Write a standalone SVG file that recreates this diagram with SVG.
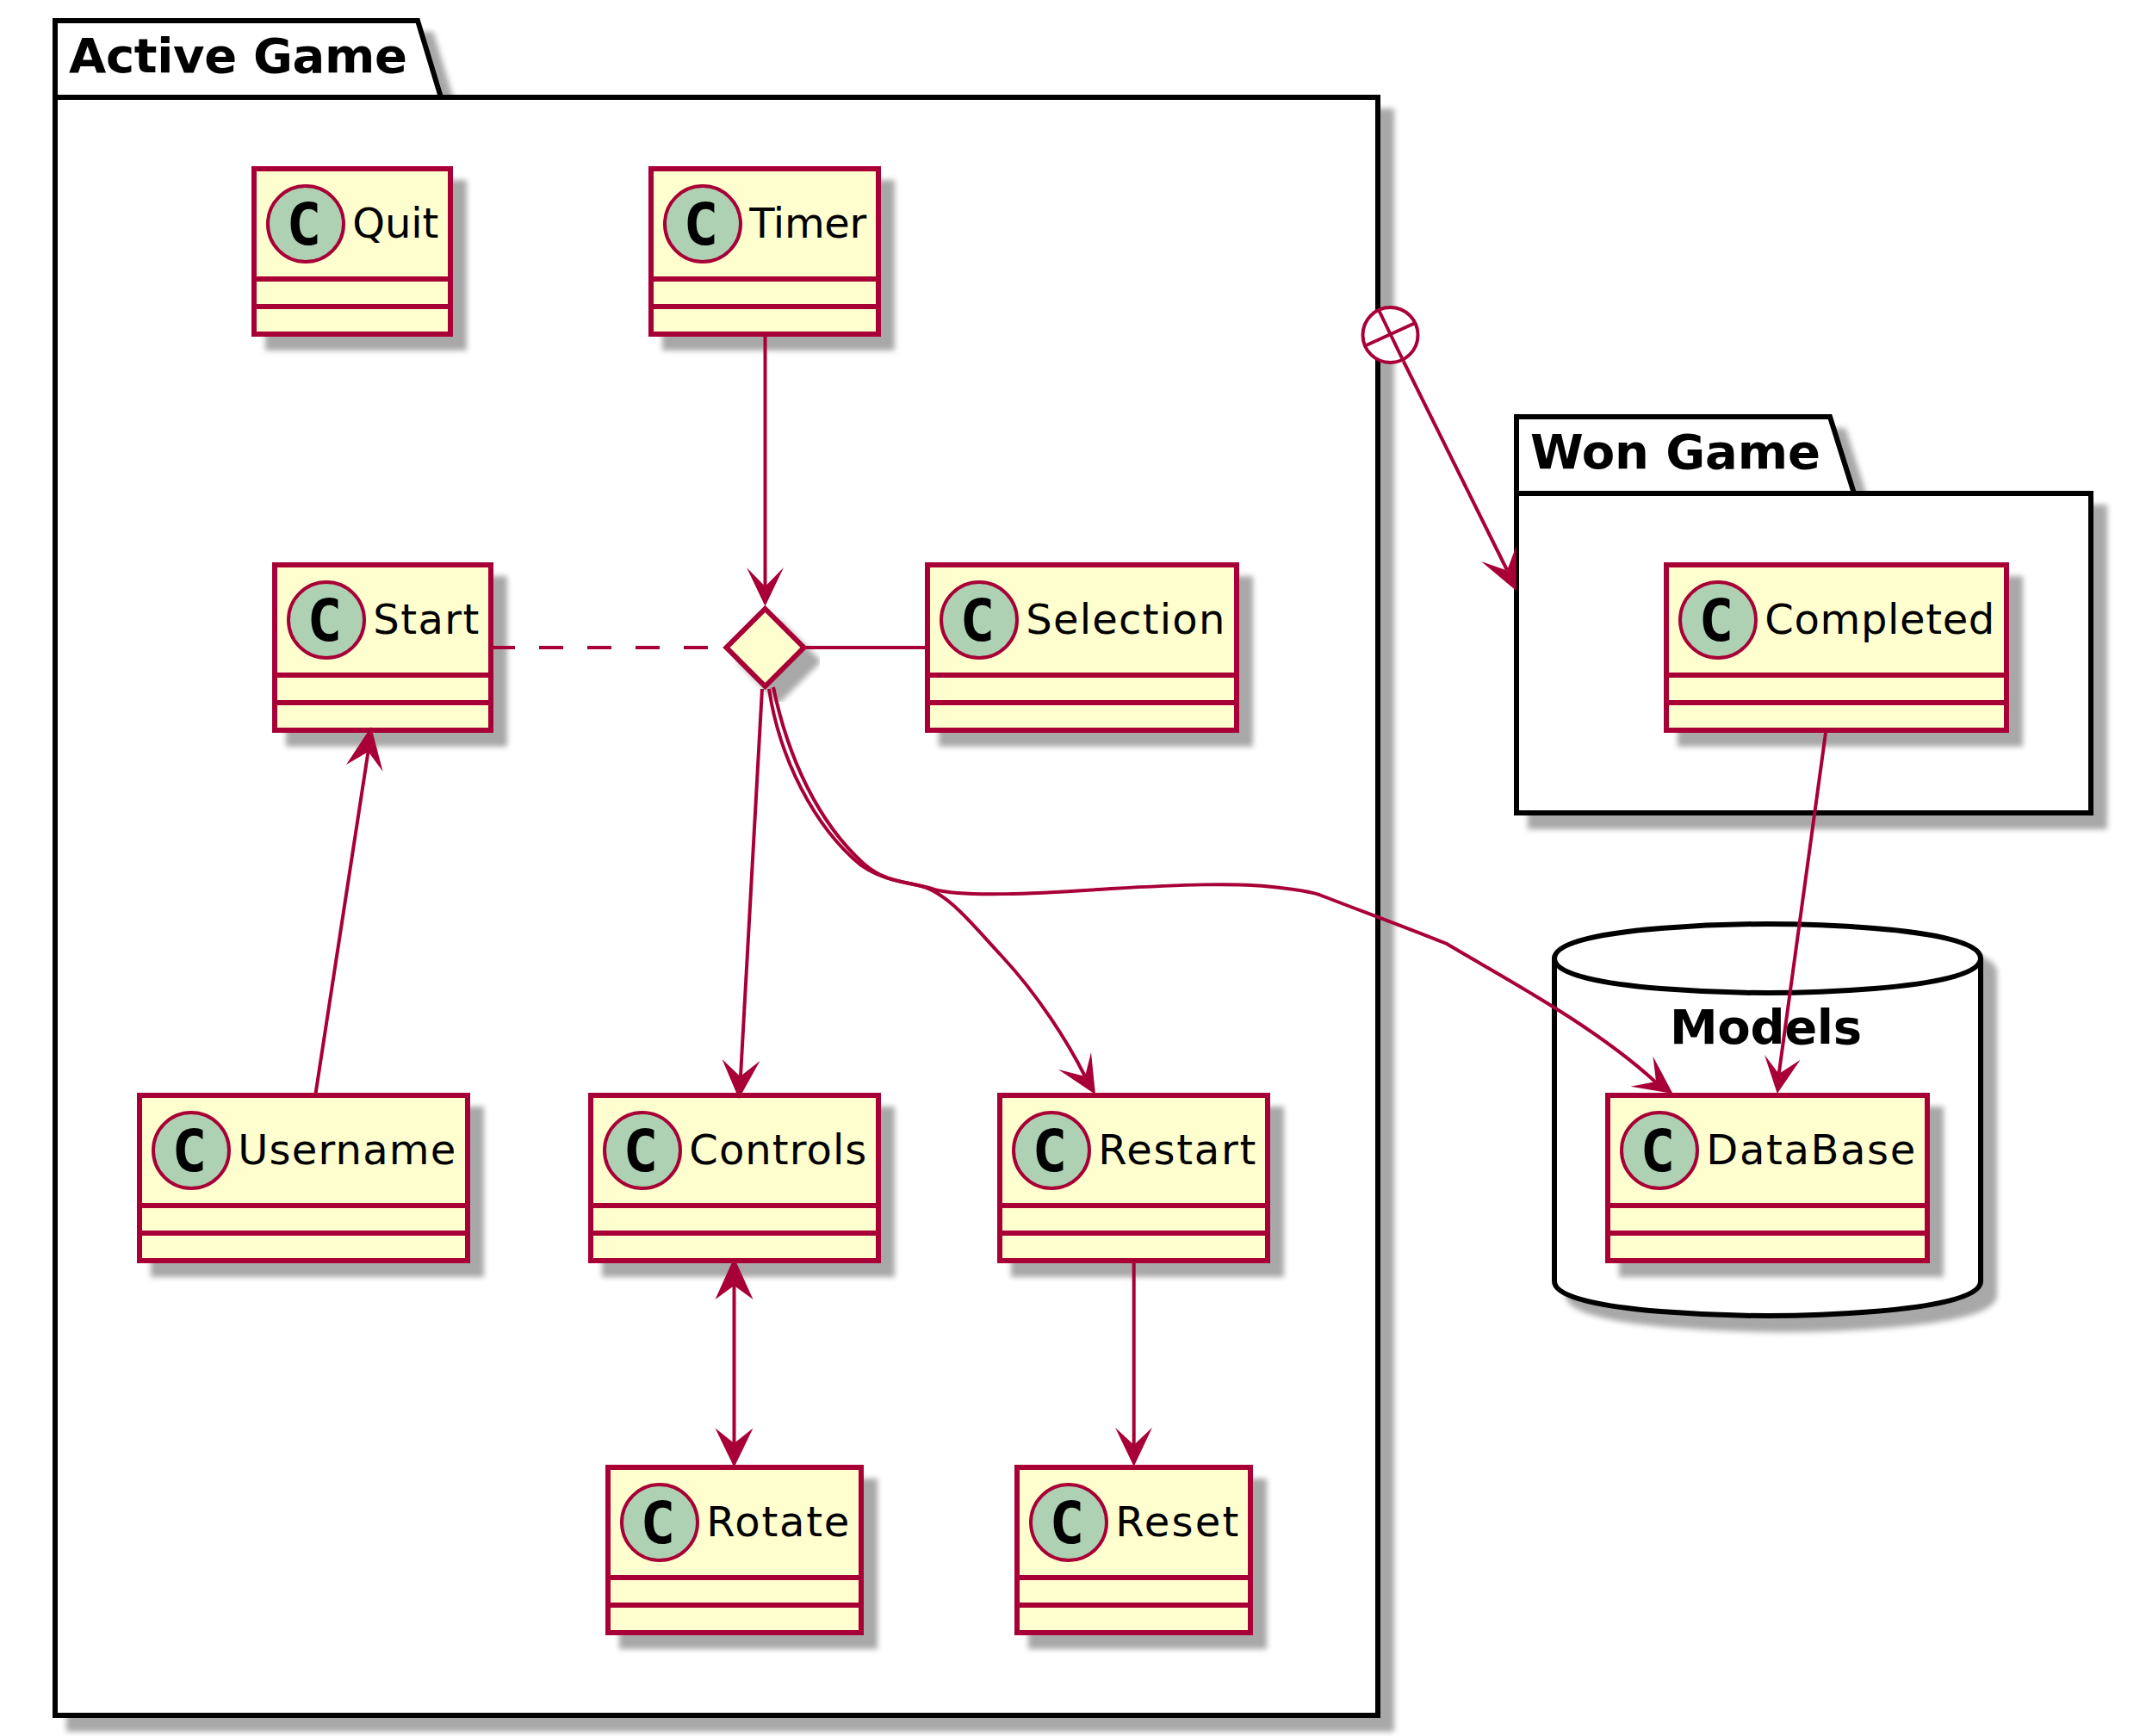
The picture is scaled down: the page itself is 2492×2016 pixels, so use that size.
<svg xmlns="http://www.w3.org/2000/svg" width="2492" height="2016" viewBox="0 0 2492 2016">
<style>
.pk{fill:#fff;stroke:#000;stroke-width:6;stroke-linejoin:miter}
.pl{fill:none;stroke:#000;stroke-width:6}
.pt{font-family:"DejaVu Sans",sans-serif;font-weight:bold;font-size:56px;fill:#000}
.b{fill:#FEFECE;stroke:#A80036;stroke-width:6}
.l{stroke:#A80036;stroke-width:6;fill:none}
.s{fill:#ADD1B2;stroke:#A80036;stroke-width:4}
.c{font-family:"DejaVu Sans Mono",monospace;font-weight:bold;font-size:68px;fill:#000;text-anchor:middle}
.t{font-family:"DejaVu Sans",sans-serif;font-size:48px;fill:#000}
.e{fill:none;stroke:#A80036;stroke-width:4}
.h{fill:#A80036;stroke:none}
.sh{filter:url(#shadow)}
</style>
<defs>
<filter id="shadow" x="-20%" y="-20%" width="140%" height="140%" color-interpolation-filters="sRGB">
<feDropShadow dx="16" dy="16" stdDeviation="3" flood-color="#a8a8a8" flood-opacity="1"/>
</filter>
</defs>
<rect width="2492" height="2016" fill="#fff"/>

<g id="pkg-active">
<path class="pk sh" d="M64,24H485L512,113H1600V1992H64Z"/>
<path class="pl" d="M64,113H512"/>
<text class="pt" x="80" y="84" textLength="393" lengthAdjust="spacing">Active Game</text>
</g>
<g id="pkg-won">
<path class="pk sh" d="M1761,484H2125L2153,573H2428V944H1761Z"/>
<path class="pl" d="M1761,573H2153"/>
<text class="pt" x="1777" y="544" textLength="337" lengthAdjust="spacing">Won Game</text>
</g>
<g id="pkg-models">
<path class="pk sh" d="M1805,1113C1805,1073 2052.5,1073 2052.5,1073C2052.5,1073 2300,1073 2300,1113V1488C2300,1528 2052.5,1528 2052.5,1528C2052.5,1528 1805,1528 1805,1488Z"/>
<path class="pl" d="M1805,1113C1805,1153 2052.5,1153 2052.5,1153C2052.5,1153 2300,1153 2300,1113"/>
<text class="pt" x="1939" y="1212" textLength="223" lengthAdjust="spacing">Models</text>
</g>

<g id="Quit">
<rect class="b sh" x="295" y="196" width="228" height="192"/>
<path class="l" d="M295,324H523M295,356H523"/>
<circle class="s" cx="355" cy="260" r="44"/>
<text class="c" x="353" y="284">C</text>
<text class="t" x="409.300" y="276" textLength="100" lengthAdjust="spacing">Quit</text>
</g>
<g id="Timer">
<rect class="b sh" x="756" y="196" width="264" height="192"/>
<path class="l" d="M756,324H1020M756,356H1020"/>
<circle class="s" cx="816" cy="260" r="44"/>
<text class="c" x="814" y="284">C</text>
<text class="t" x="870.300" y="276" textLength="136" lengthAdjust="spacing">Timer</text>
</g>
<g id="Start">
<rect class="b sh" x="319" y="656" width="251" height="192"/>
<path class="l" d="M319,784H570M319,816H570"/>
<circle class="s" cx="379" cy="720" r="44"/>
<text class="c" x="377" y="744">C</text>
<text class="t" x="433.300" y="736" textLength="123" lengthAdjust="spacing">Start</text>
</g>
<g id="Decision">
<path class="b sh" d="M888.500,707L933.500,752L888.500,797L843.500,752Z"/>
</g>
<g id="Selection">
<rect class="b sh" x="1077" y="656" width="359" height="192"/>
<path class="l" d="M1077,784H1436M1077,816H1436"/>
<circle class="s" cx="1137" cy="720" r="44"/>
<text class="c" x="1135" y="744">C</text>
<text class="t" x="1191.300" y="736" textLength="231" lengthAdjust="spacing">Selection</text>
</g>
<g id="Completed">
<rect class="b sh" x="1935" y="656" width="395" height="192"/>
<path class="l" d="M1935,784H2330M1935,816H2330"/>
<circle class="s" cx="1995" cy="720" r="44"/>
<text class="c" x="1993" y="744">C</text>
<text class="t" x="2049.300" y="736" textLength="267" lengthAdjust="spacing">Completed</text>
</g>
<g id="Username">
<rect class="b sh" x="162" y="1272" width="381" height="192"/>
<path class="l" d="M162,1400H543M162,1432H543"/>
<circle class="s" cx="222" cy="1336" r="44"/>
<text class="c" x="220" y="1360">C</text>
<text class="t" x="276.300" y="1352" textLength="253" lengthAdjust="spacing">Username</text>
</g>
<g id="Controls">
<rect class="b sh" x="686" y="1272" width="334" height="192"/>
<path class="l" d="M686,1400H1020M686,1432H1020"/>
<circle class="s" cx="746" cy="1336" r="44"/>
<text class="c" x="744" y="1360">C</text>
<text class="t" x="800.300" y="1352" textLength="206" lengthAdjust="spacing">Controls</text>
</g>
<g id="Restart">
<rect class="b sh" x="1161" y="1272" width="311" height="192"/>
<path class="l" d="M1161,1400H1472M1161,1432H1472"/>
<circle class="s" cx="1221" cy="1336" r="44"/>
<text class="c" x="1219" y="1360">C</text>
<text class="t" x="1275.300" y="1352" textLength="183" lengthAdjust="spacing">Restart</text>
</g>
<g id="DataBase">
<rect class="b sh" x="1867" y="1272" width="371" height="192"/>
<path class="l" d="M1867,1400H2238M1867,1432H2238"/>
<circle class="s" cx="1927" cy="1336" r="44"/>
<text class="c" x="1925" y="1360">C</text>
<text class="t" x="1981.300" y="1352" textLength="243" lengthAdjust="spacing">DataBase</text>
</g>
<g id="Rotate">
<rect class="b sh" x="706" y="1704" width="294" height="192"/>
<path class="l" d="M706,1832H1000M706,1864H1000"/>
<circle class="s" cx="766" cy="1768" r="44"/>
<text class="c" x="764" y="1792">C</text>
<text class="t" x="820.300" y="1784" textLength="166" lengthAdjust="spacing">Rotate</text>
</g>
<g id="Reset">
<rect class="b sh" x="1181" y="1704" width="271" height="192"/>
<path class="l" d="M1181,1832H1452M1181,1864H1452"/>
<circle class="s" cx="1241" cy="1768" r="44"/>
<text class="c" x="1239" y="1792">C</text>
<text class="t" x="1295.300" y="1784" textLength="143" lengthAdjust="spacing">Reset</text>
</g>

<g id="connectors">
<path class="e" d="M888.500,388V682"/>
<path class="h" d="M888.500,704L867,659L888.500,681L910,659Z"/>
<path class="e" d="M570,752H840" stroke-dasharray="28 28"/>
<path class="e" d="M935,752H1077"/>
<path class="e" d="M885,800L860,1250"/>
<path class="h" d="M858,1276L838.500,1230L859.500,1250L882.500,1232Z"/>
<path class="e" d="M366.500,1270L427.500,873"/>
<path class="h" d="M431,844L402,888L427.700,873L444.600,896Z"/>
<path class="e" d="M852.500,1490V1680"/>
<path class="h" d="M852.500,1460.500L830.500,1509L852.500,1493L874.500,1509Z"/>
<path class="h" d="M852.500,1704L830.500,1658.500L852.500,1676L874.500,1658.500Z"/>
<path class="e" d="M893,800C905,880 945,960 1000,1005C1018,1018 1040,1023 1066,1028C1100,1035 1130,1075 1163,1110C1205,1155 1240,1210 1260,1250"/>
<path class="h" d="M1272,1271L1229,1242L1260,1250L1267,1222Z"/>
<path class="e" d="M898,798C915,880 950,955 1003,1003C1030,1027 1060,1024 1085,1033C1120,1042 1200,1038 1290,1032C1360,1028 1440,1024 1487,1031C1505,1033 1520,1035 1532,1039C1570,1054 1620,1072 1680,1096C1745,1135 1850,1190 1923,1257"/>
<path class="h" d="M1942.500,1270L1919.500,1226.700L1923,1256L1893.500,1261.700Z"/>
<path class="e" d="M1316.700,1464V1680"/>
<path class="h" d="M1316.700,1703L1295,1657.700L1316.700,1678L1338,1657.700Z"/>
<path class="e" d="M2120,851L2065.700,1247"/>
<path class="h" d="M2063.800,1270L2049,1225L2065.700,1247L2090.600,1230.700Z"/>
<circle cx="1614.500" cy="389" r="32" fill="#fff" stroke="#A80036" stroke-width="4"/>
<path class="e" d="M1601,360L1630,420M1585.400,401.500L1642.400,375.500"/>
<path class="e" d="M1630,420L1750,662"/>
<path class="h" d="M1760.700,686L1720,652L1750,662.500L1760.700,634Z"/>
</g>
</svg>
